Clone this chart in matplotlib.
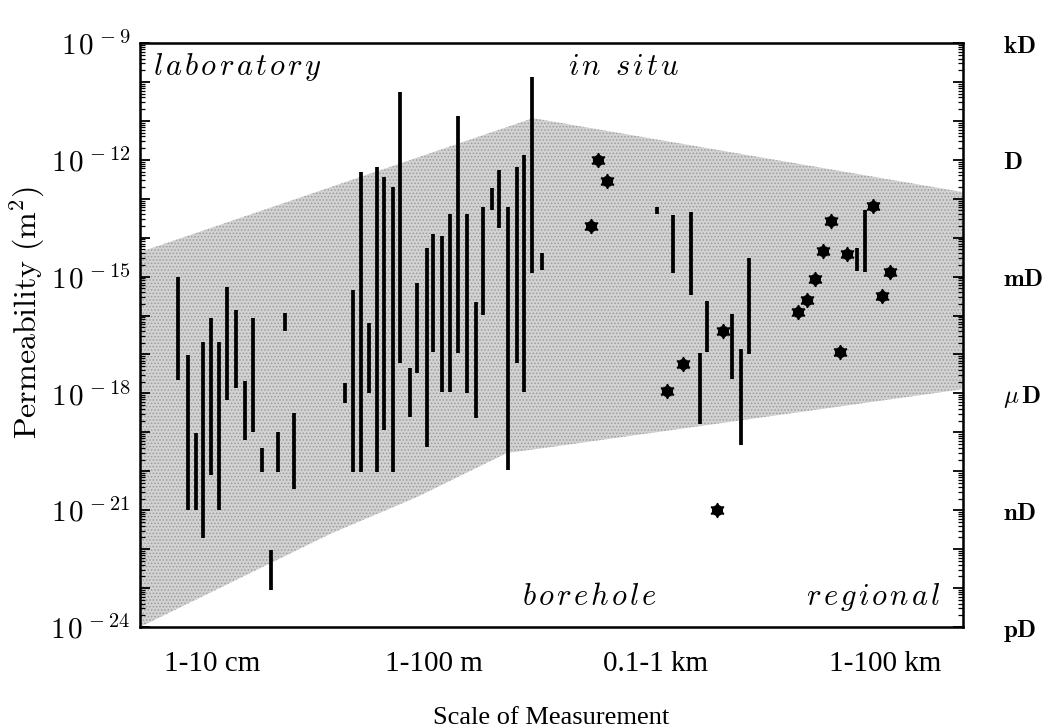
import numpy as np
import matplotlib
matplotlib.use("Agg")
import matplotlib.pyplot as plt
from matplotlib.ticker import LogLocator, FuncFormatter, NullFormatter

plt.rcParams['mathtext.fontset'] = 'cm'
plt.rcParams['hatch.linewidth'] = 0.7

# Permeability ranges, log10(k / m^2); x is position along the scale-of-measurement axis (0-100)
lab_x  = [4.62, 5.80, 6.80, 7.69, 8.59, 9.64, 10.61, 11.66, 12.76, 13.69, 14.79, 15.92, 16.73, 17.65, 18.75]
lab_lo = [-17.66, -21.00, -21.00, -21.71, -20.10, -21.00, -18.17, -17.86, -19.20, -18.99, -20.02, -23.05, -20.02, -16.40, -20.46]
lab_hi = [-15.01, -17.01, -19.02, -16.68, -16.06, -16.68, -15.27, -15.86, -17.68, -16.06, -19.40, -22.02, -18.99, -15.93, -18.50]

situ_x  = [24.91, 25.84, 26.85, 27.83, 28.76, 29.68, 30.70, 31.59, 32.81, 33.69, 34.84, 35.64, 36.73,
           37.67, 38.60, 39.70, 40.79, 41.71, 42.73, 43.66, 44.75, 45.77, 46.69, 47.67, 48.81]
situ_lo = [-18.25, -20.02, -20.02, -17.99, -20.02, -18.94, -20.02, -17.22, -18.61, -17.48, -19.38, -16.94, -17.96,
           -17.96, -16.96, -17.99, -18.63, -15.99, -13.29, -13.75, -19.97, -17.22, -17.96, -14.91, -14.83]
situ_hi = [-17.73, -15.34, -12.31, -16.19, -12.19, -12.44, -12.70, -10.26, -17.35, -15.16, -14.27, -13.91, -13.96,
           -13.39, -10.88, -13.39, -15.65, -13.21, -12.72, -12.26, -13.21, -12.19, -11.88, -9.87, -14.39]

bore_x  = [62.85, 64.80, 66.91, 68.04, 68.93, 71.97, 72.99, 74.00]
bore_lo = [-13.39, -14.91, -15.47, -18.79, -16.93, -17.63, -19.33, -16.99]
bore_hi = [-13.21, -13.42, -13.33, -16.95, -15.62, -15.96, -16.86, -14.52]

reg_x  = [87.08, 88.09]
reg_lo = [-14.85, -14.87]
reg_hi = [-14.27, -13.29]

# Single-value estimates
pt_x = [55.69, 56.78, 54.76, 65.94, 64.00, 70.88, 70.07,
        89.10, 83.93, 83.03, 85.94, 91.13, 82.02, 81.08, 79.99, 90.12, 85.05]
pt_y = [-12.01, -12.54, -13.70, -17.25, -17.94, -16.39, -21.00,
        -13.19, -13.57, -14.33, -14.42, -14.89, -15.06, -15.60, -15.92, -15.50, -16.93]

# Envelope of reported values
env_top_x = [0.0, 47.75, 100.0]
env_top_y = [-14.37, -10.93, -12.83]
env_bot_x = [0.0, 23.09, 33.66, 44.59, 49.82, 100.0]
env_bot_y = [-24.0, -21.61, -20.66, -19.53, -19.38, -17.89]

scale_pos = [8.75, 35.72, 62.58, 90.52]
scale_labels = ['1-10 cm', '1-100 m', '0.1-1 km', '1-100 km']

darcy_exp = [-9, -12, -15, -18, -21, -24]
darcy_labels = [r'$\mathbf{kD}$', r'$\mathbf{D}$', r'$\mathbf{mD}$', r'$\mu\,\mathbf{D}$', r'$\mathbf{nD}$', r'$\mathbf{pD}$']


def spaced(word, gap=0.12):
    """Math-italic word with a little extra tracking between the letters."""
    parts = [r'\ ' if c == ' ' else c for c in word]
    return '$' + (r'\hspace{%g}' % gap).join(parts) + '$'


def power_label(v, pos):
    e = int(round(np.log10(v)))
    if e % 3:
        return ''
    return r'$1\hspace{0.12}0^{\hspace{0.08}-%d}$' % abs(e)


def darcy_label(v, pos):
    e = int(round(np.log10(v)))
    return darcy_labels[darcy_exp.index(e)] if e in darcy_exp else ''


fig = plt.figure(figsize=(10.55, 7.28), dpi=100)
ax = fig.add_axes([0.1327, 0.1387, 0.7801, 0.8022])

px = np.array(env_top_x + env_bot_x[::-1])
py = 10.0 ** np.array(env_top_y + env_bot_y[::-1])
ax.fill(px, py, facecolor='#d2d2d2', edgecolor='#9c9c9c', hatch='.....', linewidth=0, zorder=1)

for xs, lo, hi in [(lab_x, lab_lo, lab_hi), (situ_x, situ_lo, situ_hi),
                   (bore_x, bore_lo, bore_hi), (reg_x, reg_lo, reg_hi)]:
    ax.vlines(xs, 10.0 ** np.array(lo), 10.0 ** np.array(hi), colors='black', linewidth=2.7, zorder=3)

pt_k = 10.0 ** np.array(pt_y)
ax.plot(pt_x, pt_k, linestyle='none', marker=(6, 1, 0), markersize=10.5, color='black', zorder=4)
ax.plot(pt_x, pt_k, linestyle='none', marker='o', markersize=7, color='black', zorder=4)

ax.set_yscale('log')
ax.set_xlim(0, 100)
ax.set_ylim(1e-24, 1e-9)

ax.yaxis.set_major_locator(LogLocator(base=10, numticks=30))
ax.yaxis.set_minor_locator(LogLocator(base=10, subs=np.arange(2, 10), numticks=30))
ax.yaxis.set_major_formatter(FuncFormatter(power_label))
ax.yaxis.set_minor_formatter(NullFormatter())
ax.tick_params(axis='y', which='major', direction='in', length=7, width=1.3, labelsize=21, pad=7)
ax.tick_params(axis='y', which='minor', direction='in', length=3.5, width=0.9)

ax.set_xticks(scale_pos)
ax.set_xticklabels(scale_labels, family='Liberation Serif', fontsize=21)
ax.tick_params(axis='x', length=0, pad=17)

for s in ax.spines.values():
    s.set_linewidth(1.8)

ax.set_ylabel(r'$\mathrm{Permeability\ (m^2)}$', fontsize=23)
ax.yaxis.set_label_coords(-0.113, 0.538)
ax.set_xlabel('Scale of Measurement', family='Liberation Serif', fontsize=19, labelpad=22)

ax2 = ax.twinx()
ax2.set_yscale('log')
ax2.set_ylim(1e-24, 1e-9)
ax2.yaxis.set_major_locator(LogLocator(base=10, numticks=30))
ax2.yaxis.set_minor_locator(LogLocator(base=10, subs=np.arange(2, 10), numticks=30))
ax2.yaxis.set_major_formatter(FuncFormatter(darcy_label))
ax2.yaxis.set_minor_formatter(NullFormatter())
ax2.tick_params(axis='y', which='major', direction='in', length=7, width=1.3, labelsize=18, pad=29)
ax2.tick_params(axis='y', which='minor', direction='in', length=3.5, width=0.9)

ax.text(1.6, 10 ** -9.82, spaced('laboratory'), fontsize=22, ha='left', va='baseline', zorder=5)
ax.text(52.0, 10 ** -9.82, spaced('in situ'), fontsize=22, ha='left', va='baseline', zorder=5)
ax.text(46.4, 10 ** -23.44, spaced('borehole'), fontsize=22, ha='left', va='baseline', zorder=5)
ax.text(80.9, 10 ** -23.44, spaced('regional'), fontsize=22, ha='left', va='baseline', zorder=5)

fig.savefig('out.png', dpi=100)
